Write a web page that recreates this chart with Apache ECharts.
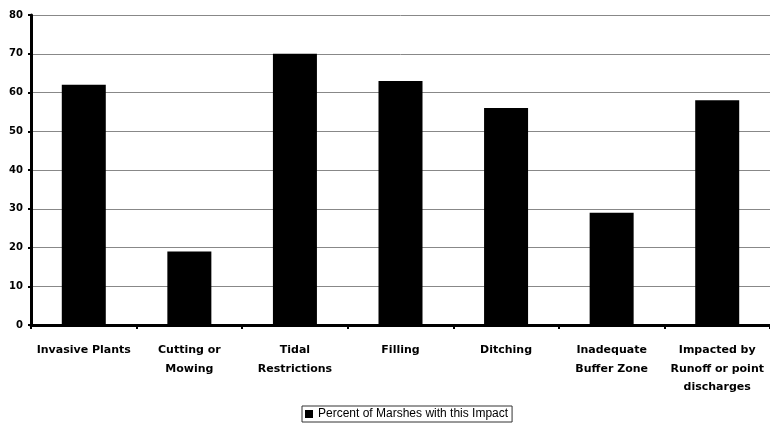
<!DOCTYPE html>
<html><head><meta charset="utf-8">
<script src="https://cdn.jsdelivr.net/npm/echarts@6/dist/echarts.min.js"></script>
<style>html,body{margin:0;padding:0;background:#fff}#c{width:770px;height:426px}</style>
</head><body><div id="c"></div>
<script>
const categories = ["Invasive Plants", "Cutting or\nMowing", "Tidal\nRestrictions", "Filling", "Ditching", "Inadequate\nBuffer Zone", "Impacted by\nRunoff or point\ndischarges"];
const values = [62, 19, 70, 63, 56, 29, 58];
const seriesName = "Percent of Marshes with this Impact";
const yTicks = {min: 0, max: 80, interval: 10};

const chart = echarts.init(document.getElementById('c'));
chart.setOption({
  animation: false,
  backgroundColor: '#fff',
  grid: {left: 31, right: 0, top: 15, bottom: 101, containLabel: false},
  legend: {
    data: [seriesName], left: 302, top: 406,
    itemWidth: 8, itemHeight: 8, itemGap: 4,
    icon: 'rect', borderColor: '#333', borderWidth: 1, padding: [2, 4, 2, 3],
    textStyle: {fontFamily: 'Liberation Sans, Arial, sans-serif', fontSize: 12, color: '#000'}
  },
  xAxis: {
    type: 'category', data: categories,
    axisLine: {lineStyle: {color: '#000', width: 3}},
    axisTick: {show: true, length: 4, lineStyle: {color: '#000', width: 2}},
    axisLabel: {interval: 0, color: '#000', fontWeight: 'bold', fontSize: 11, lineHeight: 18.5, margin: 16,
      fontFamily: 'DejaVu Sans, sans-serif'}
  },
  yAxis: {
    type: 'value', min: yTicks.min, max: yTicks.max, interval: yTicks.interval,
    axisLine: {show: true, lineStyle: {color: '#000', width: 3}},
    axisTick: {show: true, length: 3, lineStyle: {color: '#000', width: 2}},
    axisLabel: {color: '#000', fontWeight: 'bold', fontSize: 10, margin: 8,
      fontFamily: 'DejaVu Sans, sans-serif'},
    splitLine: {show: true, lineStyle: {color: '#888', width: 1}}
  },
  series: [{
    name: seriesName, type: 'bar', data: values, barWidth: 44,
    itemStyle: {color: '#000'}
  }]
});
</script></body></html>
